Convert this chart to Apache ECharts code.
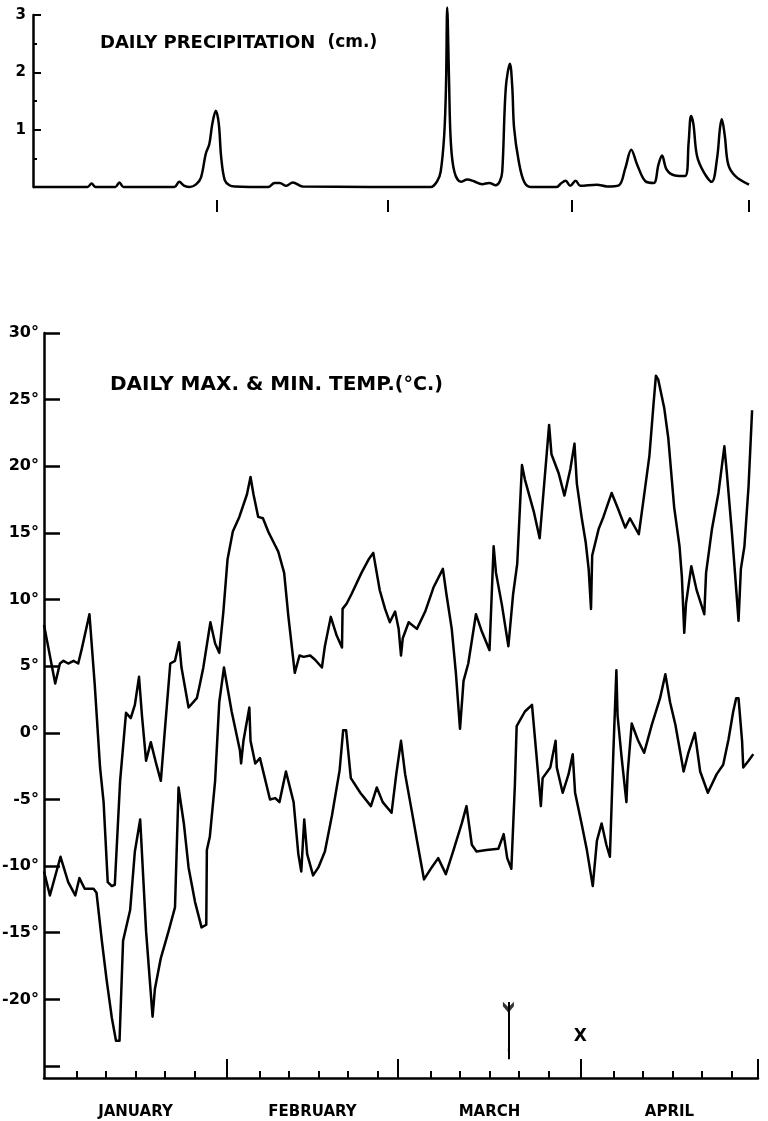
<!DOCTYPE html>
<html><head><meta charset="utf-8">
<script src="https://cdn.jsdelivr.net/npm/echarts@6/dist/echarts.min.js"></script>
<style>html,body{margin:0;padding:0;background:#fff}#c{width:768px;height:1121px}</style>
</head><body><div id="c"></div>
<script>
// ---- data (day 0 = 1 January; leap year, 121 days to 1 May) ----
const monthNames = ['JANUARY', 'FEBRUARY', 'MARCH', 'APRIL'];
const monthStartDays = [0, 31, 60, 91, 121];
const minorTickOffsets = [5.5, 10.5, 15.5, 20.5, 25.5];
const precipTickValues = [0, 1, 2, 3];
const tempTickValues = [-25, -20, -15, -10, -5, 0, 5, 10, 15, 20, 25, 30];
const tempLabelValues = [-20, -15, -10, -5, 0, 5, 10, 15, 20, 25, 30];

// daily precipitation (cm), [day, value]
const precipPoints = [
  [0,0],[9.2,0],[9.9,0.06],[10.6,0],[13.9,0],[14.6,0.08],[15.3,0],[23.9,0],[24.7,0.09],[25.6,0.02],
  [26.5,0],[27.6,0.05],[28.4,0.17],[29.2,0.58],[29.8,0.75],[30.3,1.1],[30.9,1.33],[31.4,1.1],[31.8,0.52],[32.4,0.12],
  [33.2,0.03],[34.1,0.01],[39.8,0],[40.8,0.07],[41.7,0.07],[42.8,0.02],[43.9,0.08],[45.6,0.01],[67.2,0],[68.3,0.1],
  [68.9,0.27],[69.5,0.92],[69.8,1.79],[70.0,3.13],[70.3,1.9],[70.6,0.8],[71.2,0.27],[72.3,0.09],[73.4,0.13],[74.5,0.1],
  [75.9,0.05],[77.1,0.07],[78.2,0.03],[78.9,0.1],[79.3,0.27],[79.9,1.73],[80.6,2.15],[81.0,1.73],[81.3,1.03],[82.1,0.44],
  [83.0,0.09],[84.1,0],[88.5,0],[89.2,0.06],[90.0,0.11],[90.8,0.02],[91.7,0.11],[92.5,0.02],[95.3,0.04],[97,0.01],
  [99.0,0.03],[100.1,0.33],[101.1,0.65],[102.1,0.39],[103.5,0.1],[104.9,0.07],[105.7,0.39],[106.3,0.55],[107.1,0.3],[108.5,0.2],
  [110.2,0.19],[110.8,0.78],[111.2,1.24],[111.6,1.1],[112.2,0.55],[113.3,0.27],[114.7,0.09],[115.6,0.5],[116.1,1.03],[116.4,1.18],
  [116.9,0.9],[117.5,0.39],[118.7,0.19],[121,0.04]
];

// daily maximum temperature (°C), [day, value]
const maxTempPoints = [
  [0,8.1],[1.9,3.7],[2.7,5.2],[3.3,5.4],[4.1,5.2],[5.0,5.4],[5.8,5.2],[6.4,6.3],[7.7,8.9],[8.6,3.6],
  [9.5,-2.6],[10.1,-5.2],[10.8,-11.2],[11.5,-11.5],[12.0,-11.4],[12.9,-3.6],[13.9,1.5],[14.7,1.1],[15.4,2.1],[16.1,4.2],
  [16.6,1.3],[17.3,-2.1],[18.1,-0.7],[19.0,-2.3],[19.8,-3.6],[20.5,0.3],[21.4,5.2],[22.2,5.4],[22.9,6.8],[23.3,4.9],
  [24.5,1.9],[25.9,2.6],[26.4,3.6],[27.0,4.9],[28.2,8.3],[29.0,6.7],[29.7,6.0],[30.4,9.1],[31.1,13.0],[32.0,15.1],
  [33.1,16.2],[34.4,17.9],[35.0,19.2],[35.5,17.9],[36.3,16.2],[37.1,16.1],[38.0,15.1],[38.9,14.3],[39.7,13.6],[40.7,12.0],
  [41.4,8.8],[42.5,4.5],[43.3,5.8],[44.0,5.7],[45.1,5.8],[45.9,5.5],[47.1,4.9],[47.6,6.5],[48.6,8.7],[49.6,7.3],
  [50.5,6.4],[50.6,9.3],[51.3,9.7],[52.1,10.4],[53.8,12.0],[55.0,13.0],[55.8,13.5],[56.9,10.7],[57.8,9.3],[58.6,8.3],
  [59.5,9.1],[60.1,7.8],[60.5,5.8],[60.8,7.1],[61.8,8.3],[63.2,7.8],[64.6,9.1],[66.0,10.9],[67.6,12.3],[68.2,10.4],
  [69.1,7.8],[69.8,4.5],[70.5,0.3],[71.1,3.9],[71.9,5.2],[73.2,8.9],[74.2,7.6],[75.5,6.2],[76.2,14.0],[76.6,12.0],
  [77.6,9.6],[78.7,6.5],[79.5,10.4],[80.2,12.7],[81.0,20.1],[81.5,19.0],[83.0,16.6],[84.0,14.6],[85.6,23.1],[86.0,20.9],
  [87.2,19.5],[88.2,17.8],[89.2,19.8],[89.9,21.7],[90.3,18.7],[91.1,16.2],[91.8,14.3],[92.3,12.3],[92.7,9.3],[92.9,13.3],
  [94.0,15.3],[94.8,16.2],[96.2,18.0],[97.2,16.9],[98.5,15.4],[99.3,16.1],[100.8,14.9],[101.6,17.5],[102.6,20.8],[103.3,24.7],
  [103.7,26.8],[104.1,26.5],[105.1,24.4],[105.8,22.1],[106.8,16.9],[107.7,14.0],[108.1,11.7],[108.5,7.5],[108.8,9.7],[109.7,12.5],
  [110.6,10.7],[111.9,8.9],[112.2,12.0],[113.2,15.3],[114.3,18.0],[115.3,21.5],[115.7,19.6],[116.6,14.9],[117.1,12.0],[117.7,8.4],
  [118.1,12.3],[118.7,14.0],[119.4,18.5],[120.0,24.2]
];

// daily minimum temperature (°C), [day, value]
const minTempPoints = [
  [0,-10.4],[1.0,-12.2],[2.8,-9.3],[4.1,-11.2],[5.3,-12.2],[6.0,-10.9],[6.9,-11.7],[8.4,-11.7],[8.9,-12.0],[9.8,-15.6],
  [10.6,-18.5],[11.5,-21.4],[12.2,-23.1],[12.8,-23.1],[13.4,-15.6],[14.6,-13.3],[15.4,-8.9],[16.3,-6.5],[17.3,-14.9],[18.4,-21.3],
  [18.8,-19.2],[19.8,-16.9],[21.1,-14.9],[22.2,-13.1],[22.8,-4.1],[23.7,-6.8],[24.5,-10.1],[25.6,-12.7],[26.7,-14.6],[27.5,-14.4],
  [27.6,-8.8],[28.1,-7.8],[29.0,-3.6],[29.7,2.3],[30.5,4.9],[31.8,1.6],[33.2,-1.3],[33.4,-2.3],[33.8,-0.6],[34.8,1.9],
  [35.0,-0.6],[35.8,-2.3],[36.6,-1.9],[38.3,-5.0],[39.2,-4.9],[39.9,-5.2],[41.0,-2.9],[42.3,-5.2],[43.1,-9.1],[43.6,-10.4],
  [44.1,-6.5],[44.6,-9.1],[45.6,-10.7],[46.5,-10.1],[47.6,-8.9],[48.8,-6.2],[50.1,-2.8],[50.7,0.2],[51.2,0.2],[52.0,-3.4],
  [53.6,-4.5],[55.4,-5.5],[56.4,-4.1],[57.4,-5.2],[58.9,-6.0],[59.7,-3.1],[60.5,-0.6],[61.2,-3.1],[62.3,-5.8],[63.3,-8.3],
  [64.4,-11.0],[65.7,-10.1],[66.8,-9.4],[68.1,-10.6],[69.4,-8.8],[70.8,-6.8],[71.6,-5.5],[72.5,-8.4],[73.3,-8.9],[75.0,-8.8],
  [77.0,-8.7],[77.9,-7.6],[78.5,-9.4],[79.2,-10.2],[79.8,-3.9],[80.1,0.5],[81.5,1.6],[82.7,2.1],[83.5,-1.9],[84.2,-5.5],
  [84.5,-3.4],[85.8,-2.6],[86.7,-0.6],[86.9,-2.6],[87.9,-4.5],[88.9,-3.1],[89.6,-1.6],[90.0,-4.5],[91.1,-6.8],[92.0,-8.8],
  [93.0,-11.5],[93.7,-8.1],[94.5,-6.8],[95.3,-8.4],[95.9,-9.3],[96.5,-1.3],[97.0,4.7],[97.2,1.3],[97.9,-1.9],[98.7,-5.2],
  [98.9,-3.1],[99.6,0.7],[100.7,-0.6],[101.7,-1.5],[103.0,0.6],[104.4,2.6],[105.3,4.4],[106.1,2.3],[107.0,0.6],[108.4,-2.9],
  [109.2,-1.5],[110.3,0.0],[111.2,-2.9],[112.5,-4.5],[114.0,-3.1],[115.1,-2.4],[116.0,-0.5],[116.8,1.6],[117.3,2.6],[117.7,2.6],
  [118.3,-0.6],[118.5,-2.6],[119.4,-2.1],[120.2,-1.6]
];

// annotations on the temperature panel
const arrowDay = 78.7, arrowTopTemp = -20.2, arrowBottomTemp = -24.5;
const crossDay = 90.9, crossTemp = -22.8, crossLabel = 'X';

// ---- derived ----
const majorTicks = monthStartDays.slice(1);
const minorTicks = [];
monthStartDays.slice(0, 4).forEach(s => minorTickOffsets.forEach(o => minorTicks.push(s + o)));
const monthMids = monthStartDays.slice(0, 4).map((s, i) => (s + monthStartDays[i + 1]) / 2);

const FONT = "'DejaVu Sans', sans-serif";
const black = '#000';
const LW = 2.5;
const chart = echarts.init(document.getElementById('c'), null, {renderer: 'canvas'});

chart.setOption({
  animation: false,
  backgroundColor: '#fff',
  textStyle: {fontFamily: FONT, color: black},
  title: [
    {
      text: '{a|DAILY PRECIPITATION}{b|(cm.)}',
      left: 100, top: 34, padding: 0,
      textStyle: {rich: {
        a: {fontFamily: FONT, fontWeight: 'bold', fontSize: 18, color: black},
        b: {fontFamily: FONT, fontWeight: 'bold', fontSize: 17, color: black, padding: [0, 0, 0, 12]}
      }}
    },
    {
      text: '{a|DAILY MAX. & MIN. TEMP.}{b|(°C.)}',
      left: 110, top: 375, padding: 0,
      textStyle: {rich: {
        a: {fontFamily: FONT, fontWeight: 'bold', fontSize: 20, color: black},
        b: {fontFamily: FONT, fontWeight: 'bold', fontSize: 19, color: black}
      }}
    }
  ],
  grid: [
    {left: 33, top: 15, width: 716, height: 172, outerBoundsMode: 'none'},
    {left: 44, top: 333, width: 714, height: 745, outerBoundsMode: 'none'}
  ],
  xAxis: [
    {
      gridIndex: 0, type: 'value', min: 0, max: 121, position: 'bottom', offset: 13,
      axisLine: {show: false, onZero: false}, splitLine: {show: false}, axisLabel: {show: false},
      axisTick: {show: true, inside: false, length: 12, customValues: majorTicks,
        lineStyle: {color: black, width: 2}}
    },
    {
      gridIndex: 1, type: 'value', min: 0, max: 121, position: 'bottom',
      axisLine: {show: true, onZero: false, lineStyle: {color: black, width: LW}},
      splitLine: {show: false},
      axisTick: {show: true, inside: true, length: 7, customValues: minorTicks,
        lineStyle: {color: black, width: 2}},
      axisLabel: {show: true, customValues: monthMids, margin: 27,
        formatter: v => monthNames[monthMids.indexOf(v)] || '',
        fontFamily: FONT, fontWeight: 'bold', fontSize: 15, color: black}
    },
    {
      gridIndex: 1, type: 'value', min: 0, max: 121, position: 'bottom',
      axisLine: {show: false, onZero: false}, splitLine: {show: false}, axisLabel: {show: false},
      axisTick: {show: true, inside: true, length: 19, customValues: majorTicks,
        lineStyle: {color: black, width: 2}}
    }
  ],
  yAxis: [
    {
      gridIndex: 0, type: 'value', min: 0, max: 3, interval: 1,
      axisLine: {show: true, onZero: false, lineStyle: {color: black, width: LW}},
      splitLine: {show: false},
      axisTick: {show: true, inside: true, length: 8, customValues: precipTickValues,
        lineStyle: {color: black, width: 2}},
      minorTick: {show: true, splitNumber: 2, length: 4, lineStyle: {color: black, width: 2}},
      minorSplitLine: {show: false},
      axisLabel: {margin: 7, fontFamily: FONT, fontWeight: 'bold', fontSize: 15, color: black,
        formatter: v => (v === 0 ? '' : String(v))}
    },
    {
      gridIndex: 1, type: 'value', min: -25.9, max: 30,
      axisLine: {show: true, onZero: false, lineStyle: {color: black, width: LW}},
      splitLine: {show: false},
      axisTick: {show: true, inside: true, length: 16, customValues: tempTickValues,
        lineStyle: {color: black, width: 2.5}},
      axisLabel: {show: true, customValues: tempLabelValues, margin: 5,
        fontFamily: FONT, fontWeight: 'bold', fontSize: 16, color: black,
        formatter: v => v + '°'}
    }
  ],
  series: [
    {
      name: 'Daily precipitation', type: 'line', xAxisIndex: 0, yAxisIndex: 0,
      data: precipPoints, showSymbol: false, smooth: 0.35, clip: false,
      lineStyle: {color: black, width: LW}
    },
    {
      name: 'Daily max. temp.', type: 'line', xAxisIndex: 1, yAxisIndex: 1,
      data: maxTempPoints, showSymbol: false, clip: false,
      lineStyle: {color: black, width: LW, join: 'round'}
    },
    {
      name: 'Daily min. temp.', type: 'line', xAxisIndex: 1, yAxisIndex: 1,
      data: minTempPoints, showSymbol: false, clip: false,
      lineStyle: {color: black, width: LW, join: 'round'},
      markLine: {
        silent: true, animation: false,
        symbol: ['none', 'arrow'], symbolSize: [1, 11],
        label: {show: false},
        lineStyle: {color: black, width: 2, type: 'solid'},
        data: [[{coord: [arrowDay, arrowTopTemp]}, {coord: [arrowDay, arrowBottomTemp]}]]
      },
      markPoint: {
        silent: true, animation: false,
        symbol: 'circle', symbolSize: 0,
        itemStyle: {color: black},
        label: {show: true, position: 'inside', formatter: crossLabel, color: black,
          fontFamily: FONT, fontWeight: 'bold', fontSize: 17, textBorderWidth: 0},
        data: [{coord: [crossDay, crossTemp]}]
      }
    },
    {
      name: 'arrow tail', type: 'scatter', xAxisIndex: 1, yAxisIndex: 1,
      data: [[arrowDay, arrowTopTemp - 0.4]], silent: true,
      symbol: 'path://M0,0 L5,5 L10,0 L10,4 L5,10 L0,4 Z', symbolSize: [11, 11],
      itemStyle: {color: black}
    }
  ]
});
</script>
</body></html>
